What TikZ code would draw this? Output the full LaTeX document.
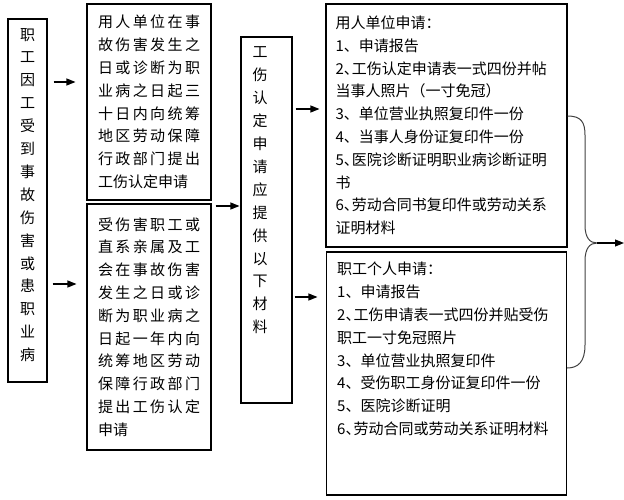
\documentclass[tikz,border=0pt]{standalone}
\usepackage{fontspec}
\setmainfont{Noto Sans CJK SC}
\usetikzlibrary{arrows.meta}
\XeTeXlinebreaklocale "zh"
\XeTeXlinebreakskip=0pt plus 5pt
\newcommand\dun{\makebox[8pt][l]{、}}

\begin{document}
\begin{tikzpicture}[x=1pt,y=-1pt,
    box/.style={draw,line width=1.1pt,inner sep=0pt},
    txt/.style={font=\fontsize{15}{22.8}\selectfont},
    vtxt/.style={font=\fontsize{15}{22.9}\selectfont,align=center,inner sep=0pt},
    arr/.style={line width=1.1pt,-{Triangle[length=9pt,width=7pt]}},
    brace/.style={line width=1pt,black!75}]
    \useasboundingbox (0,0) rectangle (624,500);

    %Left column
    \node[box,minimum width=39pt,minimum height=363pt] (Cause) at (27.5,200.5) {};
    \node[vtxt] (CauseText) at (27.5,195) {职\\工\\因\\工\\受\\到\\事\\故\\伤\\害\\或\\患\\职\\业\\病};

    %Who applies
    \node[box,txt,text width=102pt,align=justify,inner xsep=11pt,minimum height=196pt] (UnitApply) at (149,102)
    {用人单位在事故伤害发生之日或诊断为职业病之日起三十日内向统筹地区劳动保障行政部门提出工伤认定申请};
    \node[box,txt,text width=102pt,align=justify,inner xsep=11pt,minimum height=246pt] (StaffApply) at (149,327)
    {受伤害职工或直系亲属及工会在事故伤害发生之日或诊断为职业病之日起一年内向统筹地区劳动保障行政部门提出工伤认定申请};

    %Materials
    \node[box,minimum width=51pt,minimum height=366pt] (Materials) at (266.5,220) {};
    \node[vtxt] (MaterialsText) at (260,190.5) {工\\伤\\认\\定\\申\\请\\应\\提\\供\\以\\下\\材\\料};

    \node[box,txt,text width=222pt,align=left,inner xsep=9.5pt,minimum height=243pt] (UnitDocs) at (446.5,125.5)
    {用人单位申请：\\1、申请报告\\2\dun 工伤认定申请表一式四份并帖\\当事人照片（一寸免冠）\\3、单位营业执照复印件一份\\4、当事人身份证复印件一份\\5\dun 医院诊断证明职业病诊断证明\\书\\6\dun 劳动合同书复印件或劳动关系\\证明材料};

    \node[box,minimum width=240pt,minimum height=243pt] (StaffDocs) at (446.5,373.5) {};
    \node[txt,align=left,inner sep=0pt,anchor=west] (StaffDocsText) at (337,349)
    {职工个人申请：\\1、申请报告\\2\dun 工伤申请表一式四份并贴受伤\\职工一寸免冠照片\\3、单位营业执照复印件\\4、受伤职工身份证复印件一份\\5、医院诊断证明\\6\dun 劳动合同或劳动关系证明材料};

    %Arrows
    \draw[arr,shorten <=6pt,shorten >=11pt] (Cause.east |- 0,82) -- (UnitApply.west |- 0,82);
    \draw[arr,shorten <=5pt,shorten >=10pt] (Cause.east |- 0,284) -- (StaffApply.west |- 0,284);
    \draw[arr,shorten <=4pt,shorten >=1pt] (StaffApply.east |- 0,206) -- (Materials.west |- 0,206);
    \draw[arr,shorten <=3pt,shorten >=6pt] (Materials.east |- 0,109) -- (UnitDocs.west |- 0,109);
    \draw[arr,shorten <=2pt,shorten >=8.5pt] (Materials.east |- 0,297) -- (StaffDocs.west |- 0,297);

    %Brace
    \coordinate (Tip) at (597,243);
    \coordinate (Out) at (624,243);
    \draw[brace] (UnitDocs.east |- 0,116) .. controls (581,116) and (585,122) .. (585,135) -- (585,225)
    .. controls (585,238) and (590,243) .. (Tip)
    .. controls (590,243) and (585,248) .. (585,261) -- (585,345)
    .. controls (585,362) and (578,368) .. (StaffDocs.east |- 0,368);
    \draw[arr] (Tip) -- (Out);
\end{tikzpicture}
\end{document}
